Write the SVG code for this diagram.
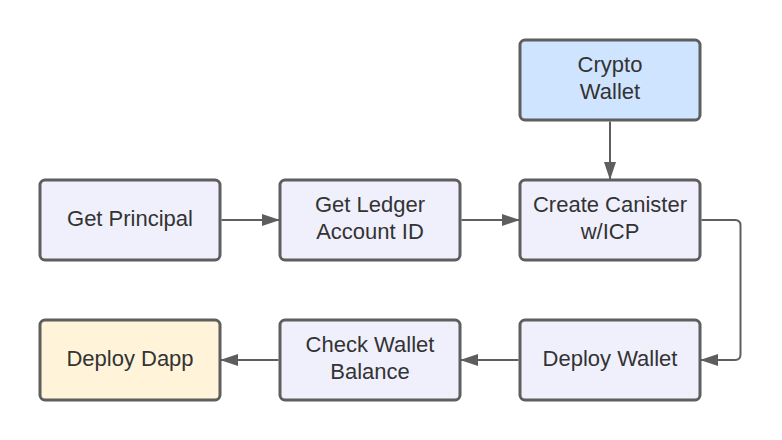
<svg xmlns="http://www.w3.org/2000/svg" width="782" height="440" viewBox="0 0 782 440">
<style>
.box{stroke:#5e5e5e;stroke-width:3;}
.def{fill:#f0f0fd;}
.blue{fill:#cfe4ff;}
.yel{fill:#fff3d9;}
text{font-family:"Liberation Sans",Arial,sans-serif;font-size:22px;fill:#333333;text-anchor:middle;}
.edge{fill:none;stroke:#5e5e5e;stroke-width:2;marker-end:url(#arr);}
</style>
<defs>
<marker id="arr" viewBox="0 0 18 12" refX="17" refY="6" markerWidth="18" markerHeight="12" markerUnits="userSpaceOnUse" orient="auto">
<path d="M0,0 L18,6 L0,12 Z" fill="#5e5e5e"/>
</marker>
</defs>
<rect width="782" height="440" fill="#ffffff"/>
<g id="connectors">
<path class="edge" d="M610,121.5 L610,179"/>
<path class="edge" d="M221.5,220 L279,220"/>
<path class="edge" d="M461.5,220 L519,220"/>
<path class="edge" d="M701.5,220 L735,220 Q740.5,220 740.5,225.5 L740.5,354.5 Q740.5,360 735,360 L701,360"/>
<path class="edge" d="M518.5,360 L461,360"/>
<path class="edge" d="M278.5,360 L221,360"/>
</g>
<g id="crypto-wallet">
<rect class="box blue" x="520" y="40" width="180" height="80" rx="5"/>
<text x="610" y="72">Crypto</text>
<text x="610" y="98.5">Wallet</text>
</g>
<g id="get-principal">
<rect class="box def" x="40" y="180" width="180" height="80" rx="5"/>
<text x="130" y="226">Get Principal</text>
</g>
<g id="get-ledger">
<rect class="box def" x="280" y="180" width="180" height="80" rx="5"/>
<text x="370" y="212">Get Ledger</text>
<text x="370" y="238.5">Account ID</text>
</g>
<g id="create-canister">
<rect class="box def" x="520" y="180" width="180" height="80" rx="5"/>
<text x="610" y="212">Create Canister</text>
<text x="610" y="238.5">w/ICP</text>
</g>
<g id="deploy-dapp">
<rect class="box yel" x="40" y="320" width="180" height="80" rx="5"/>
<text x="130" y="366">Deploy Dapp</text>
</g>
<g id="check-balance">
<rect class="box def" x="280" y="320" width="180" height="80" rx="5"/>
<text x="370" y="352">Check Wallet</text>
<text x="370" y="378.5">Balance</text>
</g>
<g id="deploy-wallet">
<rect class="box def" x="520" y="320" width="180" height="80" rx="5"/>
<text x="610" y="366">Deploy Wallet</text>
</g>
</svg>
